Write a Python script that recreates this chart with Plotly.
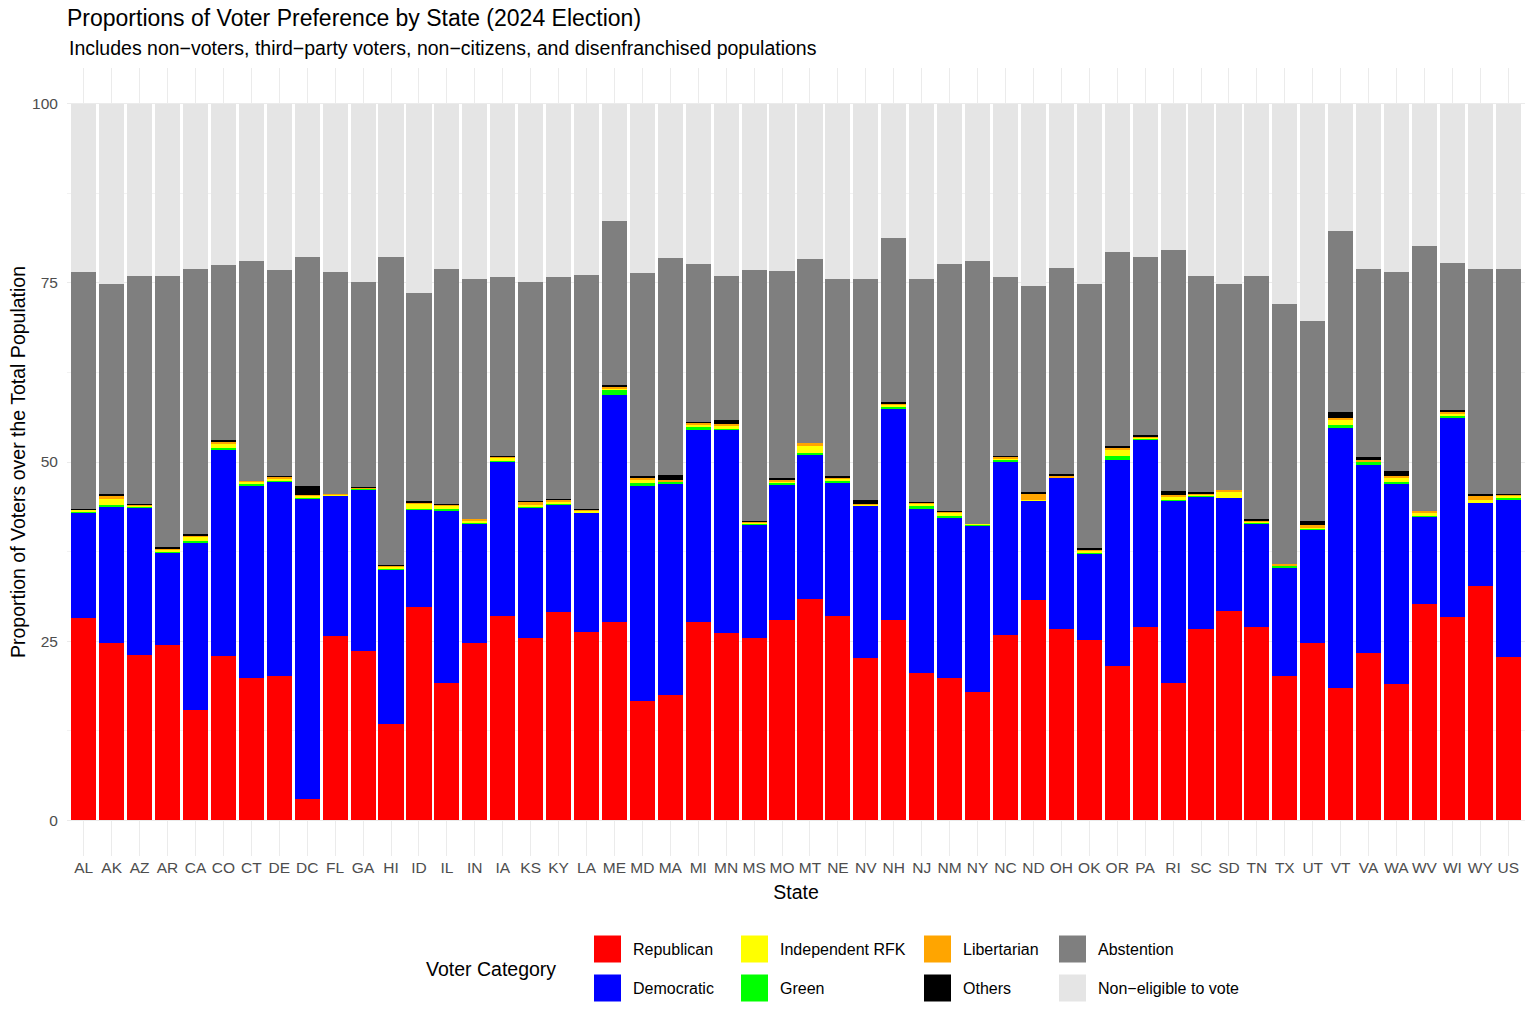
import plotly.graph_objects as go

states = ["AL", "AK", "AZ", "AR", "CA", "CO", "CT", "DE", "DC", "FL", "GA", "HI", "ID",
          "IL", "IN", "IA", "KS", "KY", "LA", "ME", "MD", "MA", "MI", "MN", "MS", "MO",
          "MT", "NE", "NV", "NH", "NJ", "NM", "NY", "NC", "ND", "OH", "OK", "OR", "PA",
          "RI", "SC", "SD", "TN", "TX", "UT", "VT", "VA", "WA", "WV", "WI", "WY", "US"]

republican = [28.2, 24.8, 23.0, 24.4, 15.4, 22.9, 19.9, 20.1, 3.0, 25.7, 23.6, 13.4, 29.8,
              19.2, 24.8, 28.5, 25.5, 29.0, 26.3, 27.6, 16.6, 17.5, 27.7, 26.1, 25.5, 28.0,
              30.9, 28.5, 22.7, 27.9, 20.6, 19.8, 17.9, 25.9, 30.7, 26.7, 25.1, 21.5, 27.0,
              19.2, 26.7, 29.2, 27.0, 20.1, 24.8, 18.5, 23.4, 19.0, 30.2, 28.4, 32.7, 22.8]
democratic = [14.8, 18.9, 20.7, 12.9, 23.3, 28.8, 26.8, 27.2, 41.9, 19.6, 22.5, 21.5, 13.5,
              24.0, 16.6, 21.5, 18.1, 15.1, 16.6, 31.8, 30.0, 29.4, 26.8, 28.4, 15.8, 18.9,
              20.2, 18.7, 21.2, 29.6, 22.9, 22.4, 23.2, 24.1, 13.9, 21.1, 12.1, 28.8, 26.1,
              25.4, 18.5, 15.8, 14.4, 15.2, 15.8, 36.3, 26.2, 27.9, 12.2, 27.8, 11.6, 22.0]
green = [0.05, 0.3, 0.15, 0.1, 0.3, 0.3, 0.2, 0.1, 0.05, 0.05, 0.2, 0.3, 0.2,
         0.2, 0.05, 0.1, 0.05, 0.05, 0.05, 0.7, 0.4, 0.35, 0.35, 0.15, 0.05, 0.2,
         0.2, 0.2, 0.05, 0.2, 0.3, 0.2, 0.2, 0.3, 0.0, 0.05, 0.05, 0.5, 0.2,
         0.05, 0.1, 0.0, 0.05, 0.2, 0.1, 0.3, 0.4, 0.3, 0.1, 0.2, 0.0, 0.2]
independent_rfk = [0.25, 0.9, 0.05, 0.4, 0.6, 0.5, 0.35, 0.35, 0.35, 0.1, 0.05, 0.2, 0.7,
                   0.5, 0.3, 0.5, 0.4, 0.4, 0.3, 0.05, 0.6, 0.05, 0.4, 0.5, 0.2, 0.05,
                   1.0, 0.2, 0.05, 0.2, 0.4, 0.6, 0.05, 0.1, 0.1, 0.05, 0.4, 0.9, 0.05,
                   0.6, 0.1, 0.8, 0.3, 0.0, 0.05, 0.9, 0.1, 0.7, 0.5, 0.4, 0.4, 0.3]
libertarian = [0.1, 0.3, 0.15, 0.15, 0.2, 0.4, 0.1, 0.2, 0.05, 0.1, 0.1, 0.1, 0.2,
               0.1, 0.3, 0.2, 0.4, 0.2, 0.15, 0.4, 0.2, 0.15, 0.2, 0.2, 0.1, 0.45,
               0.4, 0.3, 0.2, 0.3, 0.1, 0.1, 0.05, 0.3, 0.8, 0.2, 0.2, 0.2, 0.25,
               0.15, 0.2, 0.3, 0.1, 0.2, 0.5, 0.2, 0.2, 0.2, 0.1, 0.2, 0.5, 0.2]
others = [0.1, 0.3, 0.05, 0.15, 0.2, 0.2, 0.05, 0.05, 1.25, 0.05, 0.05, 0.1, 0.2,
          0.1, 0.05, 0.1, 0.05, 0.05, 0.1, 0.15, 0.3, 0.75, 0.15, 0.55, 0.05, 0.1,
          0.0, 0.2, 0.5, 0.2, 0.1, 0.1, 0.0, 0.1, 0.3, 0.2, 0.15, 0.4, 0.2,
          0.5, 0.2, 0.0, 0.15, 0.0, 0.55, 0.8, 0.4, 0.6, 0.0, 0.2, 0.4, 0.1]
abstention = [33.0, 29.4, 31.9, 37.9, 36.9, 24.4, 30.6, 28.8, 32.0, 30.9, 28.6, 43.0, 29.0,
              32.9, 33.5, 24.9, 30.6, 31.0, 32.6, 23.0, 28.3, 30.3, 22.1, 20.1, 35.1, 29.0,
              25.7, 27.5, 30.8, 22.8, 31.2, 34.5, 36.7, 25.0, 28.7, 28.8, 36.8, 27.0, 24.8,
              33.7, 30.1, 28.8, 34.0, 36.3, 27.9, 25.2, 26.2, 27.8, 37.1, 20.6, 31.4, 31.4]
non_eligible = [23.5, 25.1, 24.0, 24.0, 23.1, 22.5, 22.0, 23.2, 21.4, 23.5, 24.9, 21.4, 26.4,
                23.0, 24.4, 24.2, 24.9, 24.2, 23.9, 16.3, 23.6, 21.5, 22.3, 24.0, 23.2, 23.3,
                21.6, 24.4, 24.5, 18.8, 24.4, 22.3, 21.9, 24.2, 25.5, 22.9, 25.2, 20.7, 21.4,
                20.4, 24.1, 25.1, 24.0, 28.0, 30.3, 17.8, 23.1, 23.5, 19.8, 22.2, 23.0, 23.0]

# stacking order, bottom to top
series = [
    ("Republican", republican, "#FF0000"),
    ("Democratic", democratic, "#0000FF"),
    ("Green", green, "#00FF00"),
    ("Independent RFK", independent_rfk, "#FFFF00"),
    ("Libertarian", libertarian, "#FFA500"),
    ("Others", others, "#000000"),
    ("Abstention", abstention, "#7F7F7F"),
    ("Non\u2212eligible to vote", non_eligible, "#E5E5E5"),
]
colors = {name: col for name, _, col in series}

# legend grid as in the reference (column by column)
legend_cols = [["Republican", "Democratic"],
               ["Independent RFK", "Green"],
               ["Libertarian", "Others"],
               ["Abstention", "Non\u2212eligible to vote"]]

FONT = "Liberation Sans, Arial, Helvetica, sans-serif"
W, H = 1536, 1024
PANEL_L, PANEL_R, PANEL_T, PANEL_B = 67, 1525, 68, 856   # panel edges in pixels
L, T = PANEL_L, PANEL_T
R = W - PANEL_R
B = H - PANEL_B

def px_x(p):
    return (p - PANEL_L) / (PANEL_R - PANEL_L)

def px_y(p):
    return (PANEL_B - p) / (PANEL_B - PANEL_T)

fig = go.Figure()
for name, vals, col in series:
    fig.add_trace(go.Bar(x=states, y=vals, name=name, marker_color=col,
                         marker_line_width=0, showlegend=False))

# hand-built legend with large keys
shapes = []
annotations = []
key_x = [594, 741, 924, 1059]
row_y = [949, 988]
for ci, col_items in enumerate(legend_cols):
    for ri, name in enumerate(col_items):
        x0 = key_x[ci]
        yc = row_y[ri]
        shapes.append(dict(type="rect", xref="paper", yref="paper",
                           x0=px_x(x0), x1=px_x(x0 + 27),
                           y0=px_y(yc + 13.5), y1=px_y(yc - 13.5),
                           fillcolor=colors[name], line=dict(width=0)))
        annotations.append(dict(xref="paper", yref="paper", x=px_x(x0 + 37), y=px_y(yc),
                                text=name, showarrow=False, xanchor="left", yanchor="middle",
                                font=dict(family=FONT, size=16, color="#000000")))
annotations.append(dict(xref="paper", yref="paper", x=px_x(424), y=px_y(969),
                        text="Voter Category", showarrow=False, xanchor="left",
                        yanchor="middle", font=dict(family=FONT, size=19.5, color="#000000")))
annotations.append(dict(xref="paper", yref="paper", x=0, y=px_y(48),
                        text="Includes non\u2212voters, third\u2212party voters, non\u2212citizens, and disenfranchised populations",
                        showarrow=False, xanchor="left", yanchor="middle",
                        font=dict(family=FONT, size=19.5, color="#000000")))

fig.update_layout(
    barmode="stack",
    bargap=0.1,
    width=W, height=H,
    margin=dict(l=L, r=R, t=T, b=B, pad=0),
    paper_bgcolor="white",
    plot_bgcolor="white",
    font=dict(family=FONT),
    title=dict(text="Proportions of Voter Preference by State (2024 Election)",
               x=PANEL_L / W, xanchor="left", xref="container",
               y=1 - 18 / H, yanchor="middle", yref="container",
               font=dict(family=FONT, size=23, color="#000000")),
    shapes=shapes,
    annotations=annotations,
)
fig.update_xaxes(
    range=[-0.6, len(states) - 0.4],
    showgrid=True, gridcolor="#EBEBEB", gridwidth=1,
    ticks="",
    tickfont=dict(family=FONT, size=15.5, color="#4D4D4D"),
    title=dict(text="State", standoff=10, font=dict(family=FONT, size=19.5, color="#000000")),
    zeroline=False, showline=False,
)
fig.update_yaxes(
    range=[-5, 105],
    tickvals=[0, 25, 50, 75, 100],
    showgrid=True, gridcolor="#EBEBEB", gridwidth=1,
    minor=dict(tick0=0, dtick=12.5, showgrid=True, gridcolor="#F2F2F2", gridwidth=0.6),
    ticks="outside", ticklen=5, tickcolor="rgba(0,0,0,0)",
    tickfont=dict(family=FONT, size=15.5, color="#4D4D4D"),
    title=dict(text="Proportion of Voters over the Total Population", standoff=1,
               font=dict(family=FONT, size=19.5, color="#000000")),
    zeroline=False, showline=False,
)

# drop the default 8px page margin so the figure fills the window exactly
fig.write_html("out.html", config={"displayModeBar": False},
               post_script="document.body.style.margin = '0px';")
